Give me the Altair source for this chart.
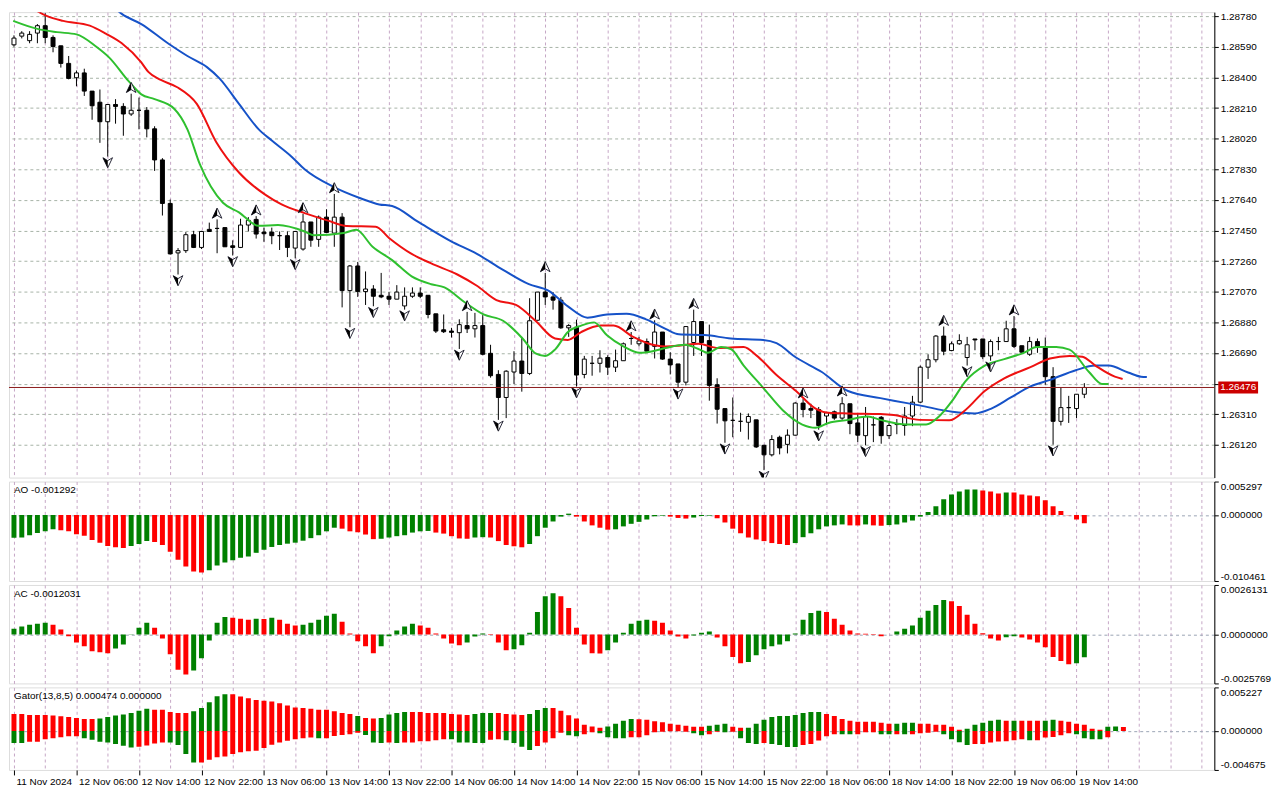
import json
import altair as alt
import pandas as pd
import numpy as np

# ---------------- data ----------------
TIME_LABELS = ["11 Nov 2024", "12 Nov 06:00", "12 Nov 14:00", "12 Nov 22:00", "13 Nov 06:00",
               "13 Nov 14:00", "13 Nov 22:00", "14 Nov 06:00", "14 Nov 14:00", "14 Nov 22:00",
               "15 Nov 06:00", "15 Nov 14:00", "15 Nov 22:00", "18 Nov 06:00", "18 Nov 14:00",
               "18 Nov 22:00", "19 Nov 06:00", "19 Nov 14:00"]
PRICE_LEVELS = [1.2612, 1.2631, 1.2650, 1.2669, 1.2688, 1.2707, 1.2726, 1.2745, 1.2764,
                1.2783, 1.2802, 1.2821, 1.2840, 1.2859, 1.2878]
PRICE_RANGE = [1.25917, 1.28805]
AO_RANGE = [-0.010461, 0.005297]
AC_RANGE = [-0.0025769, 0.0026131]
GATOR_RANGE = [-0.004675, 0.005227]
BAR_RANGE = [0, 153]

OPEN = [1.28602, 1.28656, 1.28628, 1.28675, 1.28721, 1.28648, 1.28596, 1.28487, 1.28398, 1.28428,
        1.28315, 1.28246, 1.28125, 1.28232, 1.28220, 1.28173, 1.28196, 1.28196, 1.28081, 1.27888,
        1.27618, 1.27311, 1.27325, 1.27424, 1.27345, 1.27457, 1.27463, 1.27468, 1.27355, 1.27345,
        1.27484, 1.27519, 1.27440, 1.27440, 1.27418, 1.27418, 1.27341, 1.27335, 1.27503, 1.27395,
        1.27533, 1.27434, 1.27533, 1.27077, 1.27230, 1.27071, 1.27087, 1.27048, 1.27042, 1.27024,
        1.26982, 1.27042, 1.27062, 1.27048, 1.26933, 1.26834, 1.26826, 1.26816, 1.26860, 1.26840,
        1.26860, 1.26688, 1.26557, 1.26414, 1.26572, 1.26640, 1.26563, 1.26893, 1.27068, 1.27038,
        1.27018, 1.26846, 1.26850, 1.26557, 1.26626, 1.26626, 1.26662, 1.26602, 1.26642, 1.26780,
        1.26747, 1.26761, 1.26731, 1.26820, 1.26652, 1.26622, 1.26509, 1.26755, 1.26885, 1.26767,
        1.26493, 1.26345, 1.26272, 1.26266, 1.26260, 1.26275, 1.26117, 1.26058, 1.26167, 1.26123,
        1.26180, 1.26379, 1.26345, 1.26339, 1.26299, 1.26325, 1.26286, 1.26375, 1.26256, 1.26177,
        1.26244, 1.26291, 1.26177, 1.26246, 1.26240, 1.26299, 1.26385, 1.26602, 1.26648, 1.26795,
        1.26705, 1.26747, 1.26662, 1.26777, 1.26777, 1.26672, 1.26761, 1.26761, 1.26840, 1.26735,
        1.26682, 1.26761, 1.26721, 1.26543, 1.26266, 1.26351, 1.26345, 1.26434]
HIGH = [1.28661, 1.28687, 1.28687, 1.28731, 1.28798, 1.28661, 1.28596, 1.28533, 1.28443, 1.28454,
        1.28315, 1.28325, 1.28232, 1.28265, 1.28240, 1.28299, 1.28275, 1.28216, 1.28097, 1.27899,
        1.27642, 1.27341, 1.27440, 1.27448, 1.27448, 1.27499, 1.27519, 1.27468, 1.27389, 1.27523,
        1.27533, 1.27539, 1.27468, 1.27468, 1.27444, 1.27444, 1.27444, 1.27553, 1.27503, 1.27543,
        1.27582, 1.27677, 1.27558, 1.27236, 1.27255, 1.27196, 1.27111, 1.27187, 1.27068, 1.27111,
        1.27097, 1.27097, 1.27097, 1.27048, 1.26933, 1.26929, 1.26846, 1.26899, 1.26945, 1.26939,
        1.26925, 1.26741, 1.26583, 1.26583, 1.26701, 1.26790, 1.27030, 1.27068, 1.27187, 1.27068,
        1.27038, 1.26869, 1.26897, 1.26672, 1.26672, 1.26707, 1.26676, 1.26711, 1.26755, 1.26820,
        1.26790, 1.26780, 1.26893, 1.26820, 1.26695, 1.26622, 1.26854, 1.26959, 1.26885, 1.26866,
        1.26533, 1.26345, 1.26414, 1.26319, 1.26315, 1.26275, 1.26121, 1.26180, 1.26177, 1.26216,
        1.26385, 1.26404, 1.26375, 1.26355, 1.26325, 1.26333, 1.26416, 1.26375, 1.26315, 1.26355,
        1.26296, 1.26299, 1.26256, 1.26280, 1.26355, 1.26424, 1.26612, 1.26682, 1.26801, 1.26854,
        1.26761, 1.26806, 1.26790, 1.26777, 1.26777, 1.26774, 1.26790, 1.26890, 1.26919, 1.26735,
        1.26790, 1.26780, 1.26786, 1.26602, 1.26474, 1.26424, 1.26434, 1.26503]
LOW = [1.28590, 1.28642, 1.28612, 1.28612, 1.28612, 1.28556, 1.28461, 1.28388, 1.28345, 1.28285,
       1.28137, 1.27994, 1.27909, 1.28113, 1.28038, 1.28161, 1.28078, 1.28028, 1.27820, 1.27543,
       1.27301, 1.27177, 1.27311, 1.27341, 1.27335, 1.27444, 1.27309, 1.27349, 1.27295, 1.27341,
       1.27444, 1.27400, 1.27380, 1.27365, 1.27329, 1.27285, 1.27277, 1.27325, 1.27349, 1.27349,
       1.27434, 1.27349, 1.26973, 1.26850, 1.27038, 1.26988, 1.26980, 1.27030, 1.26988, 1.27024,
       1.26959, 1.27032, 1.27030, 1.26905, 1.26814, 1.26814, 1.26786, 1.26715, 1.26814, 1.26786,
       1.26676, 1.26537, 1.26275, 1.26286, 1.26498, 1.26450, 1.26553, 1.26893, 1.26988, 1.26959,
       1.26840, 1.26790, 1.26482, 1.26533, 1.26549, 1.26569, 1.26553, 1.26572, 1.26642, 1.26741,
       1.26731, 1.26695, 1.26656, 1.26648, 1.26557, 1.26474, 1.26489, 1.26672, 1.26672, 1.26394,
       1.26252, 1.26133, 1.26167, 1.26201, 1.26153, 1.26101, 1.25963, 1.26048, 1.26061, 1.26067,
       1.26177, 1.26291, 1.26286, 1.26214, 1.26244, 1.26275, 1.26275, 1.26186, 1.26137, 1.26117,
       1.26137, 1.26127, 1.26157, 1.26186, 1.26177, 1.26236, 1.26379, 1.26529, 1.26632, 1.26676,
       1.26701, 1.26741, 1.26612, 1.26707, 1.26652, 1.26642, 1.26707, 1.26761, 1.26721, 1.26691,
       1.26672, 1.26691, 1.26493, 1.26121, 1.26240, 1.26256, 1.26286, 1.26410]
CLOSE = [1.28644, 1.28675, 1.28667, 1.28721, 1.28648, 1.28592, 1.28487, 1.28394, 1.28428, 1.28315,
         1.28224, 1.28125, 1.28232, 1.28220, 1.28173, 1.28196, 1.28196, 1.28081, 1.27888, 1.27618,
         1.27305, 1.27325, 1.27424, 1.27345, 1.27444, 1.27444, 1.27463, 1.27349, 1.27345, 1.27484,
         1.27513, 1.27428, 1.27430, 1.27418, 1.27418, 1.27345, 1.27444, 1.27503, 1.27390, 1.27533,
         1.27438, 1.27533, 1.27077, 1.27230, 1.27071, 1.27087, 1.27042, 1.27038, 1.27024, 1.27068,
         1.27042, 1.27062, 1.27042, 1.26929, 1.26826, 1.26822, 1.26818, 1.26866, 1.26840, 1.26860,
         1.26682, 1.26549, 1.26414, 1.26577, 1.26640, 1.26563, 1.26890, 1.27068, 1.27038, 1.27018,
         1.26846, 1.26860, 1.26553, 1.26652, 1.26626, 1.26658, 1.26602, 1.26642, 1.26747, 1.26780,
         1.26765, 1.26701, 1.26820, 1.26652, 1.26616, 1.26509, 1.26854, 1.26885, 1.26755, 1.26489,
         1.26341, 1.26269, 1.26272, 1.26266, 1.26296, 1.26107, 1.26058, 1.26153, 1.26101, 1.26180,
         1.26379, 1.26339, 1.26335, 1.26240, 1.26319, 1.26286, 1.26375, 1.26252, 1.26180, 1.26296,
         1.26244, 1.26177, 1.26240, 1.26246, 1.26299, 1.26385, 1.26602, 1.26648, 1.26795, 1.26701,
         1.26747, 1.26767, 1.26741, 1.26771, 1.26667, 1.26761, 1.26761, 1.26840, 1.26731, 1.26695,
         1.26761, 1.26731, 1.26543, 1.26266, 1.26351, 1.26351, 1.26434, 1.26476]

UP_FRACTALS = [4, 15, 26, 31, 37, 41, 58, 68, 79, 82, 87, 101, 106, 119, 128]
DOWN_FRACTALS = [12, 21, 28, 36, 43, 46, 50, 57, 62, 72, 85, 91, 96, 103, 109, 122, 125, 133]

JAW_I = [11, 13.8, 16.3, 19.7, 22.2, 24.7, 26.3, 28.8, 31.3, 33.0, 35.5, 37.2, 40.9, 44.25, 46.75,
         48.4, 51.75, 55.9, 59.25, 62.6, 65.9, 68.4, 70.9, 73.4, 75.9, 78.4, 80.9, 83.4, 85.1, 88.4,
         91.75, 95.9, 97.6, 100.1, 103.4, 106.75, 110.9, 112.6, 115.9, 120.1, 123, 125.1, 127.6,
         130.1, 132.6, 135.9, 138.4, 140.1, 142.6, 144.25, 145]
JAW_P = [1.28929, 1.28794, 1.28731, 1.28612, 1.28533, 1.28464, 1.28394, 1.28236, 1.28079, 1.28008,
         1.27909, 1.27830, 1.27721, 1.27652, 1.27612, 1.27602, 1.27503, 1.27384, 1.27305, 1.27206,
         1.27117, 1.27077, 1.26979, 1.26909, 1.26929, 1.26933, 1.26899, 1.26840, 1.26806, 1.26801,
         1.26780, 1.26771, 1.26751, 1.26662, 1.26572, 1.26454, 1.26410, 1.26394, 1.26365, 1.26325,
         1.26315, 1.26345, 1.26414, 1.26483, 1.26523, 1.26583, 1.26612, 1.26612, 1.26569, 1.26543,
         1.26541]
TEETH_I = [2, 4.25, 6.3, 9.7, 11.75, 13.8, 16.3, 17.2, 18.8, 20.9, 23.4, 25.9, 28.8, 32.2, 34.25,
           37.2, 40.1, 42.6, 46.3, 48, 50.9, 53.4, 56.75, 59.25, 61.75, 64.25, 66.75, 69.25, 70.9,
           72.6, 75.1, 76.75, 79.25, 81.75, 83.4, 85.1, 87.6, 90.1, 93.4, 95.1, 97.6, 100.1, 102.6,
           104.25, 106.75, 110.9, 112.6, 115.9, 119.7, 121.75, 124.25, 126.75, 130.1, 132.6, 135.1,
           136.75, 138.4, 140.9, 141.9]
TEETH_P = [1.28840, 1.28780, 1.28751, 1.28721, 1.28672, 1.28612, 1.28493, 1.28434, 1.28384, 1.28339,
           1.28236, 1.27998, 1.27810, 1.27671, 1.27612, 1.27558, 1.27513, 1.27478, 1.27474, 1.27404,
           1.27305, 1.27246, 1.27177, 1.27107, 1.27018, 1.26988, 1.26890, 1.26780, 1.26771, 1.26820,
           1.26860, 1.26860, 1.26790, 1.26741, 1.26731, 1.26735, 1.26747, 1.26721, 1.26727, 1.26672,
           1.26553, 1.26454, 1.26345, 1.26319, 1.26315, 1.26311, 1.26305, 1.26275, 1.26272, 1.26335,
           1.26454, 1.26533, 1.26602, 1.26656, 1.26672, 1.26667, 1.26612, 1.26543, 1.26529]
LIPS_I = [-0.1, 3, 5.5, 8, 10.5, 12.2, 14.7, 16.3, 18, 20.5, 22.2, 23.8, 26.75, 28.8, 31.3, 33.8,
          37.2, 38.4, 42.2, 43.8, 45.9, 48.4, 50.9, 53.4, 55.1, 57.6, 60.1, 62.6, 65.1, 66.75, 68,
          69.25, 70.9, 72.6, 74.25, 75.9, 78, 80.1, 81.75, 83.4, 85.9, 87.6, 88.8, 90.5, 91.75, 93.4,
          95.9, 98.4, 100.9, 102.6, 104.25, 106.75, 109.25, 110.9, 114.25, 116.75, 118.4, 120.1,
          121.75, 124.25, 126.75, 129.25, 130.9, 133.4, 135.1, 137.6, 139.25, 140.1]
LIPS_P = [1.28751, 1.28701, 1.28681, 1.28667, 1.28592, 1.28523, 1.28375, 1.28295, 1.28265, 1.28206,
          1.28078, 1.27860, 1.27622, 1.27563, 1.27479, 1.27484, 1.27444, 1.27420, 1.27434, 1.27454,
          1.27349, 1.27266, 1.27166, 1.27117, 1.27097, 1.27008, 1.26929, 1.26890, 1.26780, 1.26688,
          1.26672, 1.26711, 1.26820, 1.26860, 1.26880, 1.26800, 1.26731, 1.26691, 1.26701, 1.26721,
          1.26741, 1.26715, 1.26691, 1.26727, 1.26715, 1.26612, 1.26474, 1.26335, 1.26246, 1.26226,
          1.26256, 1.26275, 1.26296, 1.26275, 1.26246, 1.26246, 1.26296, 1.26394, 1.26513, 1.26612,
          1.26652, 1.26691, 1.26727, 1.26727, 1.26711, 1.26572, 1.26498, 1.26498]

AO = [-0.00362, -0.00357, -0.00321, -0.00284, -0.00259, -0.00227, -0.00243, -0.00259, -0.00305, -0.00331,
      -0.00398, -0.00439, -0.00491, -0.00512, -0.00522, -0.00491, -0.00460, -0.00414, -0.00429, -0.00476,
      -0.00584, -0.00708, -0.00817, -0.00894, -0.00910, -0.00874, -0.00801, -0.00755, -0.00719, -0.00677,
      -0.00657, -0.00600, -0.00553, -0.00507, -0.00476, -0.00455, -0.00439, -0.00408, -0.00367, -0.00321,
      -0.00259, -0.00202, -0.00217, -0.00259, -0.00274, -0.00310, -0.00383, -0.00377, -0.00357, -0.00336,
      -0.00321, -0.00279, -0.00259, -0.00253, -0.00279, -0.00295, -0.00336, -0.00372, -0.00377, -0.00357,
      -0.00352, -0.00357, -0.00414, -0.00476, -0.00496, -0.00512, -0.00460, -0.00336, -0.00202, -0.00103,
      -0.00026, 0.00021, -0.00026, -0.00103, -0.00165, -0.00202, -0.00233, -0.00227, -0.00181, -0.00140,
      -0.00109, -0.00072, -0.00021, -0.00010, -0.00026, -0.00047, -0.00057, -0.00041, -0.00016, -0.00010,
      -0.00052, -0.00119, -0.00217, -0.00290, -0.00357, -0.00388, -0.00414, -0.00445, -0.00460, -0.00476,
      -0.00445, -0.00352, -0.00290, -0.00227, -0.00181, -0.00165, -0.00150, -0.00165, -0.00166, -0.00150,
      -0.00165, -0.00171, -0.00160, -0.00150, -0.00119, -0.00088, -0.00026, 0.00047, 0.00140, 0.00248,
      0.00326, 0.00372, 0.00403, 0.00405, 0.00388, 0.00372, 0.00341, 0.00357, 0.00355, 0.00326,
      0.00310, 0.00295, 0.00233, 0.00140, 0.00062, -0.00005, -0.00072, -0.001292]
AC = [0.00031, 0.00042, 0.00052, 0.00057, 0.00062, 0.00052, 0.00026, -0.00009, -0.00042, -0.00062,
      -0.00088, -0.00093, -0.00099, -0.00073, -0.00052, 0.00001, 0.00036, 0.00062, 0.00036, -0.00021,
      -0.00104, -0.00185, -0.00211, -0.00190, -0.00125, -0.00031, 0.00062, 0.00093, 0.00088, 0.00083,
      0.00078, 0.00083, 0.00082, 0.00088, 0.00078, 0.00057, 0.00047, 0.00052, 0.00062, 0.00078,
      0.00099, 0.00109, 0.00067, 0.00005, -0.00036, -0.00062, -0.00099, -0.00062, -0.00009, 0.00021,
      0.00042, 0.00057, 0.00047, 0.00036, 0.00005, -0.00021, -0.00047, -0.00057, -0.00042, -0.00010,
      0.00005, -0.00003, -0.00042, -0.00083, -0.00078, -0.00057, 0.00010, 0.00119, 0.00202, 0.00218,
      0.00202, 0.00140, 0.00036, -0.00052, -0.00099, -0.00100, -0.00083, -0.00042, 0.00010, 0.00057,
      0.00073, 0.00078, 0.00073, 0.00062, 0.00021, -0.00010, -0.00021, -0.00005, 0.00010, 0.00016,
      -0.00016, -0.00062, -0.00119, -0.00151, -0.00145, -0.00109, -0.00078, -0.00062, -0.00052, -0.00036,
      0.00005, 0.00078, 0.00114, 0.00125, 0.00119, 0.00083, 0.00052, 0.00021, 0.00005, 0.00004,
      -0.00002, -0.00009, 0.00000, 0.00016, 0.00031, 0.00047, 0.00088, 0.00125, 0.00156, 0.00182,
      0.00176, 0.00151, 0.00104, 0.00057, 0.00007, -0.00021, -0.00031, -0.00014, -0.00009, -0.00016,
      -0.00026, -0.00042, -0.00067, -0.00119, -0.00140, -0.00156, -0.00151, -0.0012031]
GATOR_UP = [0.00204, 0.00204, 0.00193, 0.00193, 0.00193, 0.00185, 0.00177, 0.00169, 0.00157, 0.00145,
            0.00145, 0.00149, 0.00169, 0.00185, 0.00197, 0.00216, 0.00244, 0.00267, 0.00255, 0.00255,
            0.00228, 0.00216, 0.00216, 0.00236, 0.00275, 0.00346, 0.00417, 0.00440, 0.00440, 0.00413,
            0.00393, 0.00373, 0.00362, 0.00354, 0.00334, 0.00307, 0.00283, 0.00275, 0.00267, 0.00255,
            0.00255, 0.00236, 0.00216, 0.00204, 0.00181, 0.00157, 0.00149, 0.00157, 0.00197, 0.00216,
            0.00228, 0.00228, 0.00228, 0.00216, 0.00216, 0.00216, 0.00204, 0.00197, 0.00193, 0.00204,
            0.00216, 0.00216, 0.00216, 0.00204, 0.00197, 0.00193, 0.00204, 0.00252, 0.00275, 0.00275,
            0.00244, 0.00189, 0.00149, 0.00075, 0.00055, 0.00039, 0.00055, 0.00086, 0.00122, 0.00145,
            0.00141, 0.00134, 0.00118, 0.00106, 0.00086, 0.00075, 0.00063, 0.00051, 0.00051, 0.00063,
            0.00075, 0.00086, 0.00051, 0.00039, 0.00039, 0.00086, 0.00134, 0.00169, 0.00181, 0.00181,
            0.00193, 0.00216, 0.00228, 0.00228, 0.00204, 0.00181, 0.00145, 0.00122, 0.00110, 0.00110,
            0.00110, 0.00098, 0.00086, 0.00086, 0.00098, 0.00098, 0.00086, 0.00086, 0.00075, 0.00075,
            0.00051, 0.00016, 0.00028, 0.00075, 0.00098, 0.00122, 0.00134, 0.00122, 0.00122, 0.00122,
            0.00122, 0.00122, 0.00122, 0.00134, 0.00122, 0.00110, 0.00086, 0.00075, 0.00028, 0.00016,
            0.00051, 0.00055, 0.000474]
GATOR_UP_STATE = ("rrrrrrrrrr" "rgggggggrr" "rrrgggggrr" "rrrrrrrrrr" "rrrrgrrggg"
                  "grrrrrrrrg" "ggrrrrgggr" "rrrrrrgggg" "rrrrrrrrrg" "ggrrgggggg"
                  "ggggrrrrrr" "rrrgggrrrr" "rrgggggrgr" "rrggrrrrrr" "ggr")
GATOR_DN = [-0.00145, -0.00145, -0.00130, -0.00130, -0.00098, -0.00086, -0.00075, -0.00063, -0.00063, -0.00086,
            -0.00106, -0.00130, -0.00138, -0.00157, -0.00177, -0.00197, -0.00189, -0.00173, -0.00149, -0.00138,
            -0.00138, -0.00169, -0.00275, -0.00377, -0.00377, -0.00346, -0.00314, -0.00307, -0.00275, -0.00255,
            -0.00244, -0.00236, -0.00204, -0.00165, -0.00138, -0.00118, -0.00098, -0.00086, -0.00079, -0.00086,
            -0.00086, -0.00059, -0.00047, -0.00039, -0.00020, -0.00047, -0.00138, -0.00145, -0.00138, -0.00145,
            -0.00138, -0.00138, -0.00122, -0.00122, -0.00110, -0.00098, -0.00098, -0.00138, -0.00138, -0.00145,
            -0.00145, -0.00106, -0.00098, -0.00110, -0.00145, -0.00189, -0.00228, -0.00181, -0.00138, -0.00086,
            -0.00020, -0.00051, -0.00063, -0.00039, -0.00016, -0.00028, -0.00075, -0.00086, -0.00086, -0.00075,
            -0.00075, -0.00051, -0.00016, -0.00008, -0.00004, -0.00004, -0.00008, -0.00028, -0.00051, -0.00039,
            -0.00008, -0.00016, -0.00008, -0.00086, -0.00145, -0.00157, -0.00145, -0.00157, -0.00169, -0.00193,
            -0.00193, -0.00169, -0.00157, -0.00114, -0.00063, -0.00039, -0.00039, -0.00039, -0.00039, -0.00016,
            -0.00016, -0.00039, -0.00039, -0.00039, -0.00039, -0.00039, -0.00028, -0.00020, -0.00008, -0.00039,
            -0.00098, -0.00134, -0.00169, -0.00157, -0.00157, -0.00138, -0.00126, -0.00122, -0.00110, -0.00098,
            -0.00110, -0.00110, -0.00079, -0.00071, -0.00051, -0.00028, -0.00039, -0.00086, -0.00098, -0.00098,
            -0.00075]
GATOR_DN_STATE = ("ggrrrrrrrg" "ggggggrrrr" "ggggrrrrrr" "rrrrrrrrrg" "rrrrrgggrg"
                  "rrrrrrgggg" "grrggggrrr" "rggrrggggr" "rrrrrrrggr" "rgrgggrggg"
                  "grrrrrggrr" "rggrgrrrrg" "gggrrrrrrr" "grrrrrgggg" "r")
GATOR_LAST_LOW = 0.0

# ---------------- styling ----------------
W = 1212
FONT = "Liberation Sans"
FS = 10
GREEN = "#008000"
RED = "#ff0000"
GRID_V = "#c6a6c6"
GRID_H = "#a6b2a6"
ZERO_C = "#9aa4b4"
STATE_SCALE = alt.Scale(domain=["g", "r"], range=[GREEN, RED])
XS = alt.Scale(domain=BAR_RANGE, nice=False, zero=False)
GRID_VALUES = list(range(BAR_RANGE[0], BAR_RANGE[1] + 1, 4))

# ---------------- frames ----------------
n = len(OPEN)
candles = pd.DataFrame({"i": np.arange(n), "open": OPEN, "high": HIGH, "low": LOW, "close": CLOSE})
candles["body"] = np.where(candles["close"] >= candles["open"], "bull", "bear")
up_fr = candles[candles["i"].isin(UP_FRACTALS)]
dn_fr = candles[candles["i"].isin(DOWN_FRACTALS)]
jaw = pd.DataFrame({"i": JAW_I, "p": JAW_P})
teeth = pd.DataFrame({"i": TEETH_I, "p": TEETH_P})
lips = pd.DataFrame({"i": LIPS_I, "p": LIPS_P})
BID = CLOSE[-1]
bid = pd.DataFrame({"p": [BID], "label": [f"{BID:.5f}"]})


def state_from_change(vals):
    s = ["g"]
    for a, b in zip(vals[:-1], vals[1:]):
        s.append("g" if b > a else "r")
    return s


ao = pd.DataFrame({"i": np.arange(len(AO)), "v": AO, "s": state_from_change(AO)})
ac = pd.DataFrame({"i": np.arange(len(AC)), "v": AC, "s": state_from_change(AC)})
gup = pd.DataFrame({"i": np.arange(len(GATOR_UP)), "v": GATOR_UP, "s": list(GATOR_UP_STATE)})
gdn = pd.DataFrame({"i": np.arange(len(GATOR_DN)), "v": GATOR_DN, "s": list(GATOR_DN_STATE)})

# ---------------- axes ----------------
grid_x_axis = alt.Axis(values=GRID_VALUES, grid=True, gridColor=GRID_V, gridDash=[3, 3],
                       labels=False, ticks=False, domain=False, title=None)
NL = len(TIME_LABELS)
cond = f"datum.value % 8 === 0 && datum.value / 8 < {NL}"
time_axis = alt.Axis(values=GRID_VALUES, grid=True, gridColor=GRID_V, gridDash=[3, 3],
                     domain=False, title=None,
                     labelExpr=f"{cond} ? {json.dumps(TIME_LABELS)}[datum.value / 8] : ''",
                     tickColor={"condition": {"test": cond, "value": "black"}, "value": "transparent"},
                     tickSize=5, labelAlign="left", labelOffset=2, labelPadding=2,
                     labelFlush=False, labelOverlap=False, labelBound=False,
                     labelFont=FONT, labelFontSize=FS, labelColor="black")

price_axis = alt.Axis(orient="right", values=PRICE_LEVELS, grid=True, gridColor=GRID_H,
                      gridDash=[3, 3], tickSize=4, tickColor="black", domainColor="black",
                      labelExpr=f"abs(datum.value - {BID}) < 0.0004 ? '' : format(datum.value, '.5f')",
                      labelFont=FONT, labelFontSize=FS, labelColor="black", labelPadding=2,
                      title=None)


def ind_axis(rng, decimals):
    return alt.Axis(orient="right", values=[rng[0], 0, rng[1]], grid=True,
                    gridColor={"condition": {"test": "datum.value === 0", "value": ZERO_C},
                               "value": "transparent"},
                    gridDash=[3, 3], tickSize=4, tickColor="black", domainColor="black",
                    labelExpr=f"replace(format(datum.value, '.{decimals}f'), '\u2212', '-')",
                    labelFlush=True, labelFont=FONT, labelFontSize=FS, labelColor="black",
                    labelPadding=2, title=None)


# ---------------- main price panel ----------------
YS = alt.Scale(domain=PRICE_RANGE, nice=False, zero=False)


def X(axis):
    return alt.X("i:Q", scale=XS, axis=axis, title=None)


def Yp(field):
    return alt.Y(f"{field}:Q", scale=YS, axis=price_axis, title=None)


wicks = alt.Chart(candles).mark_rule(color="black", strokeWidth=1, clip=True).encode(
    x=X(grid_x_axis), y=Yp("low"), y2="high:Q")
bodies = alt.Chart(candles).mark_bar(width=4, stroke="black", strokeWidth=1, clip=True).encode(
    x=X(grid_x_axis), y=Yp("open"), y2="close:Q",
    fill=alt.Fill("body:N", scale=alt.Scale(domain=["bull", "bear"], range=["white", "black"]), legend=None))


def ma_line(df, color):
    return alt.Chart(df).mark_line(color=color, strokeWidth=2, interpolate="monotone", clip=True).encode(
        x=X(grid_x_axis), y=Yp("p"))


# fractal arrowheads: outlined head with its left half filled black
UP_FULL = "M0,-1L0.9,0.9L0,0.35L-0.9,0.9Z"
UP_HALF = "M0,-1L0,0.35L-0.9,0.9Z"
DN_FULL = "M0,1L0.9,-0.9L0,-0.35L-0.9,-0.9Z"
DN_HALF = "M0,1L0,-0.35L-0.9,-0.9Z"
FR_SIZE = 115


def fractal(df, field, path, filled_half, offset):
    if filled_half:
        mk = alt.Chart(df).mark_point(shape=path, filled=True, fill="black", strokeWidth=0,
                                      opacity=1, size=FR_SIZE, yOffset=offset, clip=True)
    else:
        mk = alt.Chart(df).mark_point(shape=path, filled=True, fill="white", stroke="#2a2a3a",
                                      strokeWidth=1, opacity=1, size=FR_SIZE, yOffset=offset, clip=True)
    return mk.encode(x=X(grid_x_axis), y=Yp(field))


fr_layers = [fractal(up_fr, "high", UP_FULL, False, -6), fractal(up_fr, "high", UP_HALF, True, -6),
             fractal(dn_fr, "low", DN_FULL, False, 6), fractal(dn_fr, "low", DN_HALF, True, 6)]

bid_line = alt.Chart(bid).mark_rule(color="#8a1a1a", strokeWidth=1).encode(y=Yp("p"))
bid_box = alt.Chart(bid).mark_tick(orient="horizontal", size=40, thickness=12, color="#cc0000",
                                   opacity=1).encode(y=Yp("p"), x=alt.value(W + 24))
bid_text = alt.Chart(bid).mark_text(color="white", font=FONT, fontSize=FS, align="center",
                                    baseline="middle").encode(y=Yp("p"), x=alt.value(W + 24), text="label:N")

main = alt.layer(wicks, bodies, ma_line(jaw, "#1652c8"), ma_line(teeth, "#ee1111"),
                 ma_line(lips, "#2fc02f"), *fr_layers, bid_line, bid_box, bid_text
                 ).properties(width=W, height=468)


# ---------------- indicator panels ----------------
def label_layer(text):
    return alt.Chart(pd.DataFrame({"t": [text]})).mark_text(
        align="left", baseline="middle", font=FONT, fontSize=FS, color="black").encode(
        x=alt.value(5), y=alt.value(9), text="t:N")


def bars(df, rng, decimals, xaxis):
    ys = alt.Scale(domain=rng, nice=False, zero=False)
    return alt.Chart(df).mark_bar(width=5, clip=True).encode(
        x=X(xaxis),
        y=alt.Y("v:Q", scale=ys, axis=ind_axis(rng, decimals), title=None),
        y2=alt.datum(0),
        color=alt.Color("s:N", scale=STATE_SCALE, legend=None))


ao_panel = alt.layer(bars(ao, AO_RANGE, 6, grid_x_axis),
                     label_layer(f"AO {AO[-1]:.6f}")).properties(width=W, height=100)
ac_panel = alt.layer(bars(ac, AC_RANGE, 7, grid_x_axis),
                     label_layer(f"AC {AC[-1]:.7f}")).properties(width=W, height=99)
gator_panel = alt.layer(bars(gup, GATOR_RANGE, 6, time_axis),
                        bars(gdn, GATOR_RANGE, 6, time_axis),
                        label_layer(f"Gator(13,8,5) {GATOR_UP[-1]:.6f} {GATOR_LAST_LOW:.6f}")
                        ).properties(width=W, height=83)

chart = alt.vconcat(main, ao_panel, ac_panel, gator_panel, spacing=2).properties(
    padding={"left": 0, "top": 0, "right": 0, "bottom": 0}
).configure_view(stroke="black", strokeWidth=1).configure(background="white")

chart.save("out.html", embed_options={"renderer": "svg", "actions": False})
